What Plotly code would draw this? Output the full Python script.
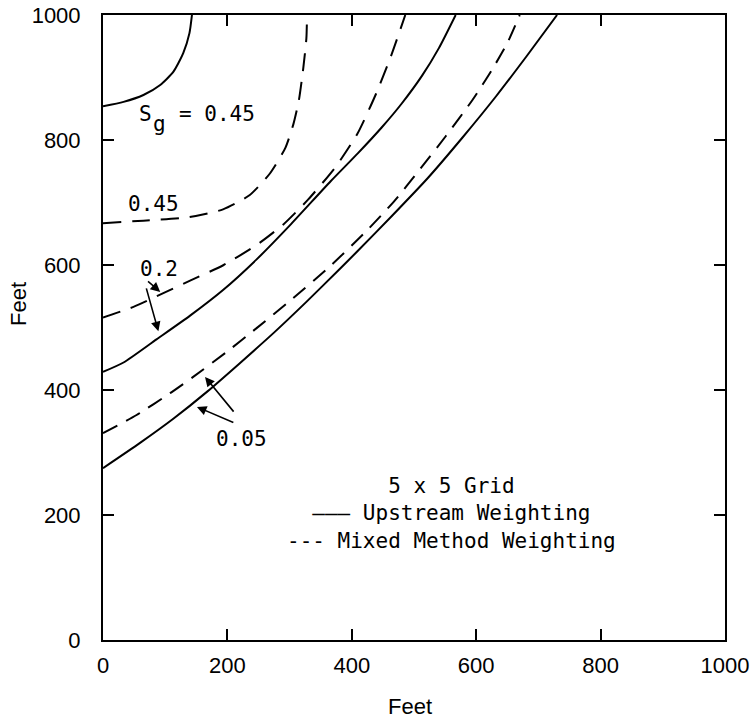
import plotly.graph_objects as go

# ---- data (feet) ----
up_045_x = [0, 33, 65, 92, 113, 129, 139, 143]
up_045_y = [854, 861, 872, 888, 909, 939, 971, 1000]

mix_045_x = [0, 65, 135, 193, 236, 268, 293, 306, 315, 322, 327, 328]
mix_045_y = [667, 671, 676, 689, 712, 746, 787, 825, 864, 915, 963, 1000]

up_02_x = [0, 33, 86, 140, 193, 247, 300, 366, 410, 448, 480, 513, 540, 567]
up_02_y = [429, 444, 481, 519, 560, 609, 663, 734, 779, 820, 858, 903, 947, 1000]

mix_02_x = [0, 49, 97, 140, 194, 247, 290, 330, 374, 409, 439, 464, 486]
mix_02_y = [516, 533, 555, 575, 600, 632, 665, 705, 757, 810, 874, 937, 1000]

up_005_x = [0, 59, 113, 167, 220, 274, 327, 381, 409, 464, 523, 578, 632, 681, 730]
up_005_y = [275, 315, 354, 397, 443, 491, 541, 594, 622, 678, 740, 804, 870, 934, 1000]

mix_005_x = [0, 54, 108, 145, 199, 247, 301, 365, 426, 469, 507, 551, 594, 624, 650, 670]
mix_005_y = [331, 360, 395, 421, 461, 499, 543, 598, 657, 703, 750, 806, 864, 910, 955, 1000]

tick_vals = [0, 200, 400, 600, 800, 1000]
tick_text = ["0", "200", "400", "600", "800", "1000"]

fig = go.Figure()

solid = dict(color="black", width=2)
dashed = dict(color="black", width=2, dash="18px,11px")

for xs, ys, ln in [
    (up_045_x, up_045_y, solid),
    (mix_045_x, mix_045_y, dashed),
    (up_02_x, up_02_y, solid),
    (mix_02_x, mix_02_y, dashed),
    (up_005_x, up_005_y, solid),
    (mix_005_x, mix_005_y, dict(color="black", width=2, dash="16px,10px")),
]:
    fig.add_trace(go.Scatter(x=xs, y=ys, mode="lines", line=dict(shape="spline", smoothing=0.6, **ln),
                             showlegend=False, hoverinfo="skip"))

mono = dict(family="DejaVu Sans Mono", size=21, color="black")
lab_font = dict(family="Liberation Sans", size=22, color="black")

ann = []
ann.append(dict(x=55, y=842, text="S", showarrow=False, xanchor="left", yanchor="middle", font=mono))
ann.append(dict(x=77, y=826, text="g", showarrow=False, xanchor="left", yanchor="middle", font=mono))
ann.append(dict(x=119, y=842, text="= 0.45", showarrow=False, xanchor="left", yanchor="middle", font=mono))
ann.append(dict(x=37, y=698, text="0.45", showarrow=False, xanchor="left", yanchor="middle", font=mono))
ann.append(dict(x=56, y=594, text="0.2", showarrow=False, xanchor="left", yanchor="middle", font=mono))
ann.append(dict(x=178, y=322, text="0.05", showarrow=False, xanchor="left", yanchor="middle", font=mono))
ann.append(dict(x=560, y=202,
                text="5 x 5 Grid<br>——— Upstream Weighting<br>--- Mixed Method Weighting",
                showarrow=False, xanchor="center", yanchor="middle", font=mono, align="center"))

arrows = [
    ((70, 576), (92, 557)),
    ((69, 565), (89, 494)),
    ((212, 363), (164, 421)),
    ((212, 347), (151, 373)),
]
for (tx, ty), (hx, hy) in arrows:
    ann.append(dict(x=hx, y=hy, ax=tx, ay=ty, xref="x", yref="y", axref="x", ayref="y",
                    showarrow=True, arrowhead=2, arrowsize=1.2, arrowwidth=1.6, arrowcolor="black",
                    text=""))

ann.append(dict(x=(410 - 103) / 622, y=(640 - 706) / 625, xref="paper", yref="paper", text="Feet",
                showarrow=False, font=lab_font, xanchor="center", yanchor="middle"))
ann.append(dict(x=(18 - 103) / 622, y=(640 - 304) / 625, xref="paper", yref="paper", text="Feet",
                showarrow=False, font=lab_font, xanchor="center", yanchor="middle", textangle=-90))

axis_common = dict(range=[0, 1000], tickvals=tick_vals, ticktext=tick_text, ticks="inside",
                   ticklen=11, tickwidth=1.6, tickcolor="black", showline=True, linewidth=2,
                   linecolor="black", mirror="ticks", showgrid=False, zeroline=False,
                   tickfont=lab_font, fixedrange=True, automargin=False)

fig.update_layout(
    width=751, height=719,
    margin=dict(l=103, r=26, t=15, b=79),
    plot_bgcolor="white", paper_bgcolor="white",
    xaxis=dict(**axis_common, ticklabelstandoff=5),
    yaxis=dict(**axis_common, ticklabelstandoff=16),
    annotations=ann,
)

fig.write_html("out.html", config={"displayModeBar": False},
               post_script="document.body.style.margin='0';")
